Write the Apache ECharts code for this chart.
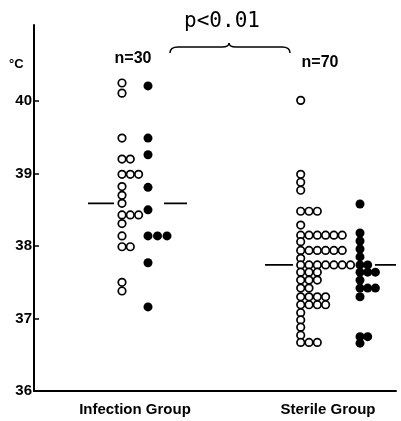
<!DOCTYPE html>
<html>
<head>
<meta charset="utf-8">
<script src="https://cdn.jsdelivr.net/npm/echarts@6/dist/echarts.min.js"></script>
<style>html,body{margin:0;padding:0;background:#fff}#c{width:401px;height:421px}</style>
</head>
<body>
<div id="c"></div>
<script>
// ---- data (°C) ----
const groups = ['Infection Group', 'Sterile Group'];
const counts = ['n=30', 'n=70'];
const yTicks = [36, 37, 38, 39, 40];
const pText = 'p<0.01';
const infectionOpen = [40.25, 40.11, 39.49, 39.2, 39.2, 38.99, 38.99, 38.99, 38.82, 38.7, 38.59,
  38.43, 38.43, 38.43, 38.31, 38.14, 37.99, 37.99, 37.5, 37.38];
const infectionFilled = [40.21, 39.49, 39.26, 38.81, 38.5, 38.14, 38.14, 38.14, 37.77, 37.16];
const sterileOpen = [40.01, 38.99, 38.88, 38.77, 38.48, 38.48, 38.48, 38.29,
  38.15, 38.15, 38.15, 38.15, 38.15, 38.15, 38.06,
  37.94, 37.94, 37.94, 37.94, 37.94, 37.94, 37.83,
  37.74, 37.74, 37.74, 37.74, 37.74, 37.74, 37.74,
  37.64, 37.64, 37.64, 37.53, 37.53, 37.53, 37.42, 37.42,
  37.3, 37.3, 37.3, 37.3, 37.19, 37.19, 37.19, 37.19,
  37.08, 36.98, 36.88, 36.77, 36.67, 36.67, 36.67];
const sterileFilled = [38.58, 38.18, 38.07, 37.96, 37.85, 37.74, 37.74, 37.64, 37.64, 37.64,
  37.53, 37.42, 37.42, 37.42, 37.3, 36.75, 36.75, 36.66];
const means = [38.59, 37.74];

// ---- layout (x axis in plot units) ----
const L = {
  infOpenX: 88, infFilledX: 114, sterOpenX: 266.7, sterFilledX: 326,
  stepOpen: 8.3, stepInfFilled: 9.5, stepSterFilled: 7.7,
  meanSeg: [[[54, 80], [130, 153]], [[231, 259], [341, 362]]],
  labelX: [101, 294]
};

function rows(values, x0, step) {
  const cnt = {};
  const out = [];
  values.forEach(v => {
    const k = v.toFixed(3);
    cnt[k] = (cnt[k] || 0);
    out.push([x0 + cnt[k] * step, v]);
    cnt[k]++;
  });
  return out;
}

const openStyle = { color: '#fff', borderColor: '#000', borderWidth: 1.7, opacity: 1 };
const filledStyle = { color: '#000', opacity: 1 };

const meanData = [];
L.meanSeg.forEach((segs, gi) => {
  segs.forEach(s => {
    meanData.push([s[0], means[gi]], [s[1], means[gi]], [null, null]);
  });
});

const braceStyle = { stroke: '#000', lineWidth: 1.5, fill: null };
function bez(x1, y1, cx, cy, x2, y2) {
  return { type: 'bezierCurve', shape: { x1: x1, y1: y1, cpx1: cx, cpy1: cy, x2: x2, y2: y2 }, style: braceStyle };
}
function seg(x1, y1, x2, y2) {
  return { type: 'line', shape: { x1: x1, y1: y1, x2: x2, y2: y2 }, style: braceStyle };
}

const chart = echarts.init(document.getElementById('c'), null, { renderer: 'canvas' });
chart.setOption({
  animation: false,
  backgroundColor: '#fff',
  grid: { left: 34, right: 5, top: 25, bottom: 30, containLabel: false },
  xAxis: {
    type: 'value', min: 0, max: 362,
    splitLine: { show: false },
    axisTick: { show: false },
    axisLine: { show: true, onZero: false, lineStyle: { color: '#000', width: 2 } },
    axisLabel: {
      customValues: L.labelX,
      formatter: v => groups[L.labelX.indexOf(v)] || '',
      color: '#000', fontFamily: 'Liberation Sans', fontWeight: 'bold', fontSize: 15, margin: 11
    }
  },
  yAxis: {
    type: 'value', min: 36, max: 41.05,
    splitLine: { show: false },
    axisLine: { show: true, lineStyle: { color: '#000', width: 2 } },
    axisTick: { show: true, inside: true, length: 5, customValues: yTicks, lineStyle: { color: '#000', width: 1.5 } },
    axisLabel: {
      customValues: yTicks, color: '#000', fontFamily: 'Liberation Sans', fontWeight: 'bold',
      fontSize: 15, margin: 2
    }
  },
  series: [
    { type: 'scatter', symbol: 'circle', symbolSize: 7.5, itemStyle: openStyle, data: rows(infectionOpen, L.infOpenX, L.stepOpen) },
    { type: 'scatter', symbol: 'circle', symbolSize: 9, itemStyle: filledStyle, data: rows(infectionFilled, L.infFilledX, L.stepInfFilled) },
    { type: 'scatter', symbol: 'circle', symbolSize: 7.5, itemStyle: openStyle, data: rows(sterileOpen, L.sterOpenX, L.stepOpen) },
    { type: 'scatter', symbol: 'circle', symbolSize: 9, itemStyle: filledStyle, data: rows(sterileFilled, L.sterFilledX, L.stepSterFilled) },
    { type: 'line', data: meanData, connectNulls: false, symbol: 'none', lineStyle: { color: '#000', width: 1.8 }, z: 1 }
  ],
  graphic: [
    { type: 'text', x: 9, y: 58, style: { text: '°C', font: 'bold 13px "Liberation Sans"', fill: '#000' } },
    { type: 'text', x: 133, y: 59, style: { text: counts[0], font: 'bold 16px "Liberation Sans"', fill: '#000', align: 'center', verticalAlign: 'middle' } },
    { type: 'text', x: 320, y: 63, style: { text: counts[1], font: 'bold 16px "Liberation Sans"', fill: '#000', align: 'center', verticalAlign: 'middle' } },
    { type: 'text', x: 222, y: 22, style: { text: pText, font: '21px "DejaVu Sans Mono"', fill: '#000', align: 'center', verticalAlign: 'middle' } },
    bez(170, 53, 170, 47, 178, 47),
    seg(178, 47, 222, 47),
    bez(222, 47, 229, 47, 229, 43),
    bez(229, 43, 229, 47, 236, 47),
    seg(236, 47, 282, 47),
    bez(282, 47, 290, 47, 290, 53)
  ]
});
</script>
</body>
</html>
